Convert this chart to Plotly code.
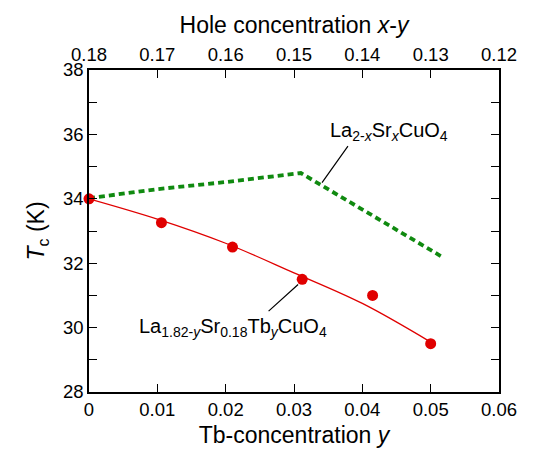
import plotly.graph_objects as go

# Data
y_tb = [0.0, 0.0106, 0.021, 0.0312, 0.0415, 0.05]
tc_tb = [34.0, 33.26, 32.5, 31.5, 31.0, 29.5]
fit_y = [0.0, 0.01, 0.02, 0.03, 0.04, 0.05]
fit_tc = [34.0, 33.37, 32.62, 31.7, 30.75, 29.55]
lsco_y = [0.0, 0.01, 0.02, 0.031, 0.0515]
lsco_tc = [34.02, 34.3, 34.52, 34.8, 32.22]
top_ticks = [0.18, 0.17, 0.16, 0.15, 0.14, 0.13, 0.12]

FONT = "Liberation Sans, Arial, sans-serif"
RED = "#e00000"
GREEN = "#108a10"

fig = go.Figure()
fig.add_trace(go.Scatter(x=lsco_y, y=lsco_tc, mode="lines",
                         line=dict(color=GREEN, width=3.8, dash="6px,4px"),
                         showlegend=False))
fig.add_trace(go.Scatter(x=fit_y, y=fit_tc, mode="lines",
                         line=dict(color=RED, width=1.3, shape="spline"),
                         showlegend=False))
fig.add_trace(go.Scatter(x=y_tb, y=tc_tb, mode="markers",
                         marker=dict(color=RED, size=11),
                         cliponaxis=False, showlegend=False))
# invisible trace for top axis
fig.add_trace(go.Scatter(x=[top_ticks[0], top_ticks[-1]], y=[28, 28], xaxis="x2",
                         mode="markers", marker=dict(opacity=0), showlegend=False,
                         hoverinfo="skip"))

axis_common = dict(showline=True, linecolor="black", linewidth=1.5, ticks="inside",
                   ticklen=8, tickwidth=1.2, tickcolor="black", showgrid=False,
                   zeroline=False, tickfont=dict(family=FONT, size=18.5, color="black"))

fig.update_layout(
    width=538, height=456,
    margin=dict(l=89, r=39, t=70, b=62),
    plot_bgcolor="white", paper_bgcolor="white",
    font=dict(family=FONT, color="black"),
    xaxis=dict(range=[0, 0.06], dtick=0.01, tick0=0,
               title=dict(text="Tb-concentration <i>y</i>", font=dict(size=23), standoff=8),
               **axis_common),
    xaxis2=dict(range=[0.18, 0.12], overlaying="x", side="top", tickvals=top_ticks,
                ticktext=[f"{v:.2f}" for v in top_ticks],
                title=dict(text="Hole concentration <i>x</i>-<i>y</i>", font=dict(size=23), standoff=4),
                anchor="y", **axis_common),
    yaxis=dict(range=[28, 38], dtick=2, mirror="ticks",
               minor=dict(dtick=1, ticks="inside", ticklen=8, tickcolor="black", tickwidth=1.2),
               title=dict(text="<i>T</i><sub>c</sub> (K)", font=dict(size=23), standoff=12),
               **axis_common),
)

# pointer lines
fig.add_annotation(x=0.0341, y=34.5, xref="x", yref="y", text="", showarrow=True,
                   ax=27, ay=-38, arrowhead=0, arrowwidth=1.2, arrowcolor="black", standoff=0)
fig.add_annotation(x=0.0306, y=31.34, xref="x", yref="y", text="", showarrow=True,
                   ax=-31, ay=28, arrowhead=0, arrowwidth=1.2, arrowcolor="black", standoff=0)
# labels
fig.add_annotation(x=0.035, y=36.1, xref="x", yref="y",
                   text="La<sub>2-<i>x</i></sub>Sr<sub><i>x</i></sub>CuO<sub>4</sub>",
                   showarrow=False, xanchor="left", yanchor="middle",
                   font=dict(family=FONT, size=20, color="black"))
fig.add_annotation(x=0.007, y=30.0, xref="x", yref="y",
                   text="La<sub>1.82-<i>y</i></sub>Sr<sub>0.18</sub>Tb<sub><i>y</i></sub>CuO<sub>4</sub>",
                   showarrow=False, xanchor="left", yanchor="middle",
                   font=dict(family=FONT, size=20, color="black"))

fig.write_html("out.html")
